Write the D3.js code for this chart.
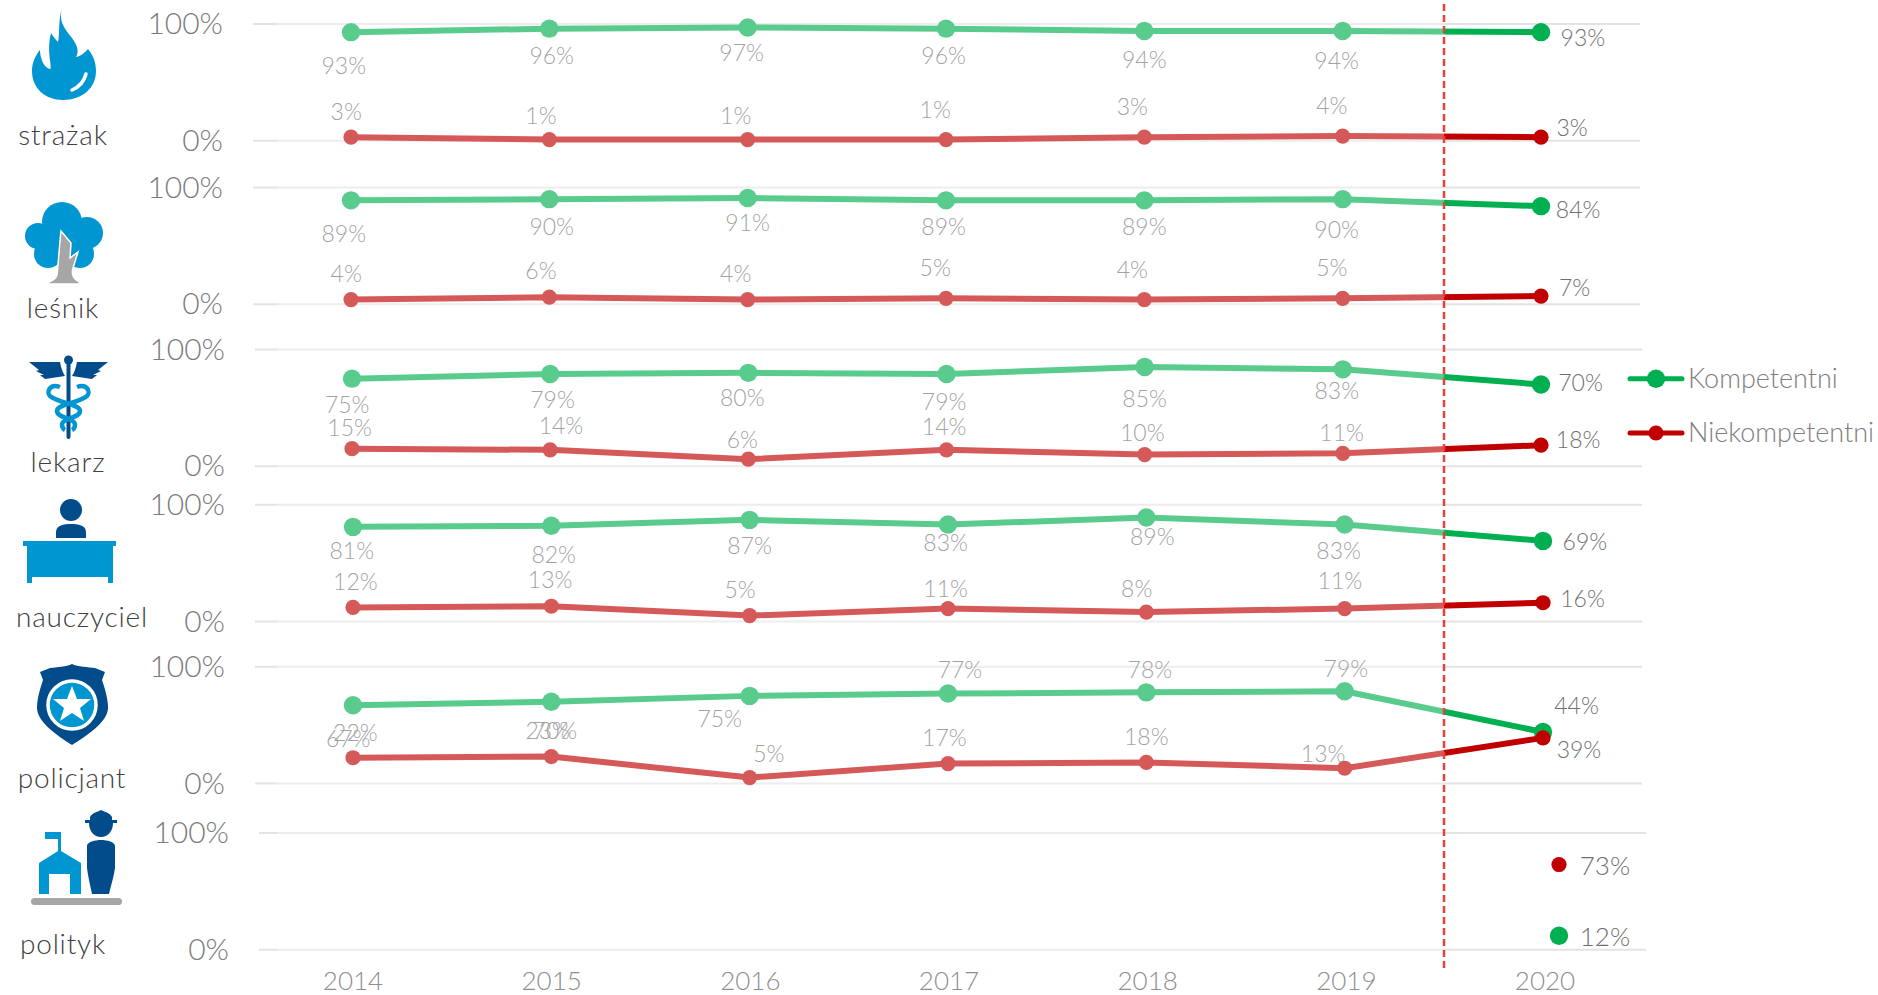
<!DOCTYPE html>
<html lang="pl">
<head>
<meta charset="utf-8">
<title>Kompetencje zawodów</title>
<script src="https://cdnjs.cloudflare.com/ajax/libs/d3/7.8.5/d3.min.js"></script>
<style>
html,body{margin:0;padding:0;background:#fff;overflow:hidden}
text{font-family:Lato,"Open Sans",sans-serif;font-weight:300}
</style>
</head>
<body>
<div id="chart"></div>
<script>
(function(){
var width = 1878,
	height = 995;

var years = [2014,2015,2016,2017,2018,2019,2020];
var jobs = ["strażak","leśnik","lekarz","nauczyciel","policjant","polityk"];

var kompetentni = [
	[93,96,97,96,94,94,93],
	[89,90,91,89,89,90,84],
	[75,79,80,79,85,83,70],
	[81,82,87,83,89,83,69],
	[67,70,75,77,78,79,44]
];
var niekompetentni = [
	[3,1,1,1,3,4,3],
	[4,6,4,5,4,5,7],
	[15,14,6,14,10,11,18],
	[12,13,5,11,8,11,16],
	[22,23,5,17,18,13,39]
];
var polityk_k = 12,
	polityk_n = 73;

// panel geometry
var panel_top = [24,187.5,349.5,504.7,666.7,833],
	panel_h = 116.7,
	grid_x0 = [253,253,255,255,255,259],
	grid_x1 = [1640,1640,1642,1642,1642,1646],
	point_x0 = [351,351,352,353,353],
	point_x1 = [1541,1541,1541,1543,1543];

// label shifts from their point, in px of the shrunk reference
var k_shift = [
	[[-6,28],[2,23],[-5,21],[-2,23],[0,24],[-5,25],[35,5]],
	[[-6,28],[2,23],[0,21],[-2,22],[0,22],[-5,26],[31,3]],
	[[-4,22],[2,22],[-5,21],[-2,23],[0,27],[-5,18],[33,-1]],
	[[-1,20],[2,24],[0,22],[-2,15],[5,16],[-5,22],[35,1]],
	[[-4,28],[3,24],[-25,19],[10,-20],[3,-19],[1,-19],[28,-22]]
];
var n_shift = [
	[[-4,-21],[-7,-20],[-10,-20],[-9,-25],[-10,-25],[-9,-25],[26,-8]],
	[[-4,-21],[-7,-22],[-10,-21],[-9,-25],[-10,-25],[-9,-25],[28,-7]],
	[[-2,-17],[9,-20],[-5,-16],[-2,-19],[-2,-18],[-1,-17],[31,-4]],
	[[2,-21],[-1,-22],[-8,-21],[-2,-16],[-8,-19],[-4,-23],[33,-3]],
	[[2,-21],[-3,-21],[16,-20],[-3,-21],[0,-21],[-18,-12],[30,10]]
];
var shrink = 1878/1568;

var green = "#00B050",
	red = "#C00000",
	grid_col = "#E3E3E3",
	tick_col = "#7C7C7C",
	label_col = "#707070";

var svg = d3.select("#chart").append("svg")
	.attr("width",width)
	.attr("height",height)
	.style("display","block");

var grid = svg.append("g"),
	marks = svg.append("g"),
	veil = svg.append("g"),
	axes = svg.append("g");

panel_top.forEach(function(top,p){
	var Y = d3.scaleLinear().domain([0,100]).range([top+panel_h,top]);

	grid.selectAll(null).data([0,100]).enter().append("line")
		.attr("x1",grid_x0[p]).attr("x2",grid_x1[p])
		.attr("y1",function(d){return Y(d)}).attr("y2",function(d){return Y(d)})
		.attr("stroke",grid_col).attr("stroke-width",2);

	axes.selectAll(null).data([0,100]).enter().append("text")
		.attr("x",grid_x0[p]-30)
		.attr("y",function(d){return Y(d)})
		.attr("dy","0.34em")
		.attr("text-anchor","end")
		.attr("font-size",30)
		.attr("fill",tick_col)
		.text(function(d){return d+"%"});

	if (p == 5) return;

	var X = d3.scalePoint().domain(years).range([point_x0[p],point_x1[p]]);
	var line = d3.line().x(function(d,i){return X(years[i])}).y(function(d){return Y(d)});

	[[kompetentni[p],green,9.2,k_shift[p]],[niekompetentni[p],red,7.6,n_shift[p]]].forEach(function(s){
		var g = marks.append("g");
		g.append("path").attr("d",line(s[0]))
			.attr("fill","none").attr("stroke",s[1]).attr("stroke-width",6).attr("stroke-linejoin","round");
		g.selectAll("circle").data(s[0]).enter().append("circle")
			.attr("cx",function(d,i){return X(years[i])})
			.attr("cy",function(d){return Y(d)})
			.attr("r",s[2])
			.attr("fill",s[1]);
		g.selectAll("text").data(s[0]).enter().append("text")
			.attr("x",function(d,i){return X(years[i])+s[3][i][0]*shrink})
			.attr("y",function(d,i){return Y(d)+s[3][i][1]*shrink})
			.attr("dy","0.35em")
			.attr("text-anchor","middle")
			.attr("font-size",23)
			.attr("fill",label_col)
			.text(function(d){return d+"%"});
	});
});

// polityk has the 2020 dots only
var Y6 = d3.scaleLinear().domain([0,100]).range([panel_top[5]+panel_h,panel_top[5]]);
[[polityk_k,green,9.2],[polityk_n,red,7.6]].forEach(function(s){
	marks.append("circle").attr("cx",1559).attr("cy",Y6(s[0])).attr("r",s[2]).attr("fill",s[1]);
	marks.append("text").attr("x",1605).attr("y",Y6(s[0])+1).attr("dy","0.35em")
		.attr("text-anchor","middle").attr("font-size",26).attr("fill",label_col).text(s[0]+"%");
});

// white veil over the older years, then the dashed divider
veil.append("rect").attr("x",277).attr("y",0).attr("width",1444-277).attr("height",968)
	.attr("fill","#fff").attr("fill-opacity",0.35);
veil.append("line").attr("x1",1444).attr("x2",1444).attr("y1",4).attr("y2",969)
	.attr("stroke","#E8413C").attr("stroke-width",2.5).attr("stroke-dasharray","7 4");

// years
var XA = d3.scalePoint().domain(years).range([353,1545]);
axes.append("g").attr("transform","translate(0,990)")
	.selectAll("text").data(years).enter().append("text")
	.attr("x",function(d){return XA(d)})
	.attr("text-anchor","middle")
	.attr("font-size",26)
	.attr("fill","#8E8E8E")
	.text(function(d){return d});

// job names
var job_x = [63,63,68,82,72,63],
	job_y = [145,318,472,627,788,954];
axes.selectAll(null).data(jobs).enter().append("text")
	.attr("x",function(d,i){return job_x[i]})
	.attr("y",function(d,i){return job_y[i]})
	.attr("text-anchor","middle")
	.attr("font-size",28)
	.attr("letter-spacing",0.8)
	.attr("fill","#404040")
	.text(function(d){return d});

// legend
[["Kompetentni",378.7,green,9.2],["Niekompetentni",433,red,7.6]].forEach(function(l){
	var g = axes.append("g");
	g.append("line").attr("x1",1630).attr("x2",1682).attr("y1",l[1]).attr("y2",l[1])
		.attr("stroke",l[2]).attr("stroke-width",5).attr("stroke-linecap","round");
	g.append("circle").attr("cx",1656).attr("cy",l[1]).attr("r",l[3]).attr("fill",l[2]);
	g.append("text").attr("x",1688).attr("y",l[1]).attr("dy","0.35em")
		.attr("font-size",27).attr("fill","#7E7E7E").text(l[0]);
});

// icons
var blue = "#0096D2",
	navy = "#024C8C",
	stone = "#A6A6A6";
var icons = axes.append("g");

// flame
icons.append("path").attr("fill",blue)
	.attr("d","M62 8C58 22 66 30 72 38C78 46 79 52 76 57C82 56 85 52 88 49C94 56 96 64 96 71C96 88 82 100 63 100C45 100 32 88 32 71C32 63 35 56 40 50C40 58 44 68 50 69C53 68 46 52 51 33C53 36 56 40 58 42C60 34 58 20 62 8Z");
icons.append("path").attr("fill","none").attr("stroke","#fff").attr("stroke-width",3.5).attr("stroke-linecap","round")
	.attr("d","M72 90C79 87 84 82 86 74");

// tree
var crown = [[62,222,20],[38,236,13],[87,233,16],[48,254,14],[80,254,14],[62,240,20]];
icons.selectAll(null).data(crown).enter().append("circle")
	.attr("cx",function(d){return d[0]}).attr("cy",function(d){return d[1]}).attr("r",function(d){return d[2]})
	.attr("fill",blue);
icons.append("path").attr("fill",stone).attr("stroke","#fff").attr("stroke-width",1.5)
	.attr("d","M45 284C52 281 56 279 57 275C58 268 59 250 61 231L71 243L70 258L78 252L73 268C71 275 73 279 83 284Z");

// caduceus
icons.append("rect").attr("x",66.5).attr("y",360).attr("width",4).attr("height",79).attr("rx",2).attr("fill",navy);
icons.append("circle").attr("cx",68.5).attr("cy",360).attr("r",4.5).attr("fill",navy);
icons.append("path").attr("fill",navy)
	.attr("d","M29 362L60 362C61 368 63 373 65 376L45 379L40 375L44 375L36 371L39 370Z");
icons.append("path").attr("fill",navy)
	.attr("d","M108 362L77 362C76 368 74 373 72 376L92 379L97 375L93 375L101 371L98 370Z");
icons.append("path").attr("fill","none").attr("stroke",blue).attr("stroke-width",4.5)
	.attr("d","M60 387C50 383 46 392 50 396C58 403 80 404 80 411C80 418 63 418 62 424C62 427 63 429 65 430");
icons.append("path").attr("fill","none").attr("stroke",blue).attr("stroke-width",4.5)
	.attr("d","M77 387C87 383 91 392 87 396C79 403 57 404 57 411C57 418 74 418 75 424C75 427 74 429 72 430");

// teacher at a desk
icons.append("circle").attr("cx",71).attr("cy",510).attr("r",11).attr("fill",navy);
icons.append("path").attr("fill",navy).attr("d","M56 538L56 532C56 525 64 524 71 524C78 524 86 525 86 532L86 538Z");
icons.append("path").attr("fill",blue).attr("d","M23 541L116 541L116 546L113 546L113 583L108 583L108 577L32 577L32 583L27 583L27 546L23 546Z");

// police badge
icons.append("path").attr("fill",navy)
	.attr("d","M72 664C78 667 88 667 95 668L105 672L102 680C106 692 108 700 108 708C108 722 86 736 72 745C58 736 37 722 37 708C37 700 39 692 43 680L40 672L50 668C57 667 66 667 72 664Z");
icons.append("circle").attr("cx",72).attr("cy",705).attr("r",24).attr("fill",blue).attr("stroke","#fff").attr("stroke-width",3.5);
icons.append("path").attr("fill","#fff")
	.attr("d","M72 686L77 699L91 699L80 708L84 721L72 713L60 721L64 708L53 699L67 699Z");

// school and politician
icons.append("path").attr("fill",blue)
	.attr("d","M39 894L39 863L58 851L58 839L45 839L45 832L61 832L61 851L81 863L81 894L70 894L70 874L49 874L49 894Z");
icons.append("rect").attr("x",31).attr("y",898).attr("width",91).attr("height",7).attr("rx",3.5).attr("fill",stone);
icons.append("path").attr("fill",navy)
	.attr("d","M90 817C92 813 97 812 101 810C105 812 110 813 112 817L112 820L117 820L117 823L113 823C113 831 108 837 101 837C94 837 89 831 89 823L85 823L85 820L90 820Z");
icons.append("path").attr("fill",navy)
	.attr("d","M87 846C87 842 95 840 101 840C107 840 115 842 115 846L115 868C114 876 111 885 109 894L92 894C90 885 88 876 87 868Z");

})()
</script>
</body>
</html>
